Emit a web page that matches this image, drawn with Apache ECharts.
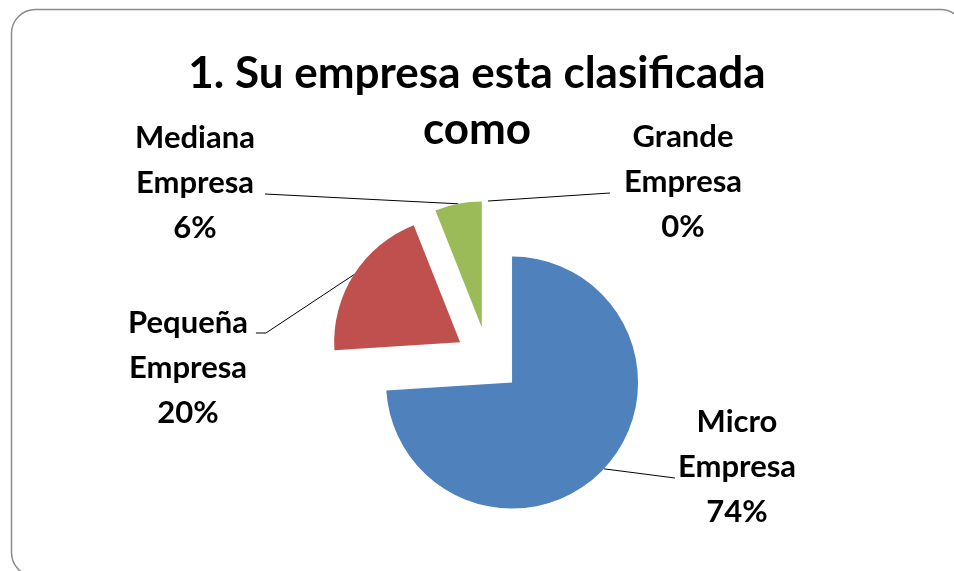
<!DOCTYPE html>
<html>
<head>
<meta charset="utf-8">
<script src="https://cdn.jsdelivr.net/npm/echarts@6/dist/echarts.min.js"></script>
<style>
  html, body { margin: 0; padding: 0; background: #ffffff; overflow: hidden; }
  #chart { width: 954px; height: 571px; }
</style>
</head>
<body>
<div id="chart"></div>
<script>
// ---- data ----
const titleText = '1. Su empresa esta clasificada\ncomo';
const categories = ['Micro Empresa', 'Pequeña Empresa', 'Mediana Empresa', 'Grande Empresa'];
const values = [74, 20, 6, 0];
const colors = ['#4F81BD', '#C0504D', '#9BBB59', '#8064A2'];

// ---- layout (label placement, not data) ----
const labelX = [737, 188, 195, 683];
const labelY = [467, 368, 183, 182];
const attachSide = [-1, 1, 1, -1];     // -1: line meets label's left side, 1: right side
const attachGap = [3, 8, 10, 14];
const attachDy = [11, -35, 11, 11];
const bendLen = [0, 10, 0, 0];

const baseCenter = [488, 360];
const radius = 126;
const explode = 33;
const fontFamily = 'Lato, "Open Sans", sans-serif';

const chart = echarts.init(document.getElementById('chart'), null, { renderer: 'canvas', width: 954, height: 571 });

const total = values.reduce((a, b) => a + b, 0);
let cum = 0;
const series = categories.map((name, i) => {
  const mid = (cum + values[i] / 2) / total * 2 * Math.PI;
  cum += values[i];
  const cx = baseCenter[0] + explode * Math.sin(mid);
  const cy = baseCenter[1] - explode * Math.cos(mid);
  return {
    type: 'pie',
    name: name,
    center: [cx, cy],
    radius: radius,
    startAngle: 90,
    clockwise: true,
    silent: true,
    animation: false,
    avoidLabelOverlap: false,
    percentPrecision: 0,
    z: 2 + i,
    itemStyle: { borderWidth: 0 },
    emphasis: { disabled: true },
    label: {
      position: 'outside',
      formatter: p => p.name.split(' ').join('\n') + '\n' + p.percent + '%',
      fontFamily: fontFamily,
      fontWeight: 'bold',
      fontSize: 31,
      lineHeight: 45,
      color: '#000000',
      align: 'center'
    },
    labelLine: {
      length: 10,
      length2: 10,
      lineStyle: { color: '#000000', width: 1 }
    },
    labelLayout: function (params) {
      const k = params.dataIndex;
      const w = params.labelRect.width;
      const x = labelX[k], y = labelY[k];
      const side = attachSide[k];
      const ex = x + side * (w / 2 + attachGap[k]);
      const ey = y + attachDy[k];
      const bx = ex + side * bendLen[k];
      const out = { x: x, y: y, align: 'center', verticalAlign: 'middle' };
      if (params.labelLinePoints && params.labelLinePoints[0]) {
        out.labelLinePoints = [params.labelLinePoints[0].slice(), [bx, ey], [ex, ey]];
      }
      return out;
    },
    data: categories.map((n, j) => ({
      name: n,
      value: values[j],
      itemStyle: { color: j === i ? colors[j] : 'rgba(0,0,0,0)', borderWidth: 0 },
      label: { show: j === i },
      labelLine: { show: j === i }
    }))
  };
});

chart.setOption({
  animation: false,
  backgroundColor: '#ffffff',
  title: {
    text: titleText,
    left: 'center',
    top: 46,
    padding: 0,
    textStyle: {
      fontFamily: fontFamily,
      fontWeight: 'bold',
      fontSize: 44,
      lineHeight: 56,
      color: '#000000'
    }
  },
  graphic: [{
    type: 'rect',
    silent: true,
    z: 0,
    left: 9,
    top: 7,
    shape: { x: 0, y: 0, width: 953, height: 567, r: 24 },
    style: { fill: 'none', stroke: '#8a8a8a', lineWidth: 1.5 }
  }],
  series: series
});
</script>
</body>
</html>
